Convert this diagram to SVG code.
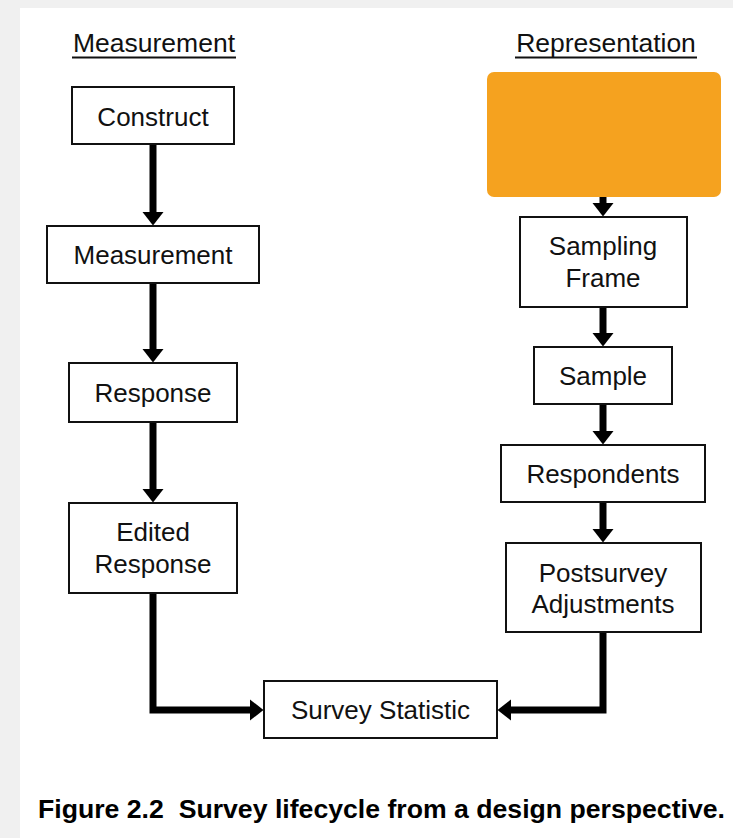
<svg xmlns="http://www.w3.org/2000/svg" width="733" height="838" viewBox="0 0 733 838">
<style>
.box{fill:#fff;stroke:#111;stroke-width:2}
.t{font-family:"Liberation Sans",Arial,sans-serif;font-size:26px;fill:#111;text-anchor:middle}
.hd{font-family:"Liberation Sans",Arial,sans-serif;font-size:26.5px;fill:#111;text-anchor:middle}
.ul{stroke:#111;stroke-width:2}
.c{fill:none;stroke:#000;stroke-width:7;marker-end:url(#ah)}
.cap{font-family:"Liberation Sans",Arial,sans-serif;font-size:26px;font-weight:bold;fill:#000;white-space:pre}
</style>
<defs>
<marker id="ah" markerUnits="userSpaceOnUse" viewBox="0 -11 14 22" markerWidth="14" markerHeight="22" refX="0.5" refY="0" orient="auto">
<path d="M0,-10.5 L13.5,0 L0,10.5 Z" fill="#000"/>
</marker>
</defs>
<rect x="0" y="0" width="733" height="838" fill="#f0f0f0"/>
<rect x="20" y="8" width="713" height="830" fill="#fff"/>

<g id="title-measurement">
<text class="hd" x="154" y="52">Measurement</text>
<line class="ul" x1="72" y1="57.5" x2="236" y2="57.5"/>
</g>
<g id="title-representation">
<text class="hd" x="606" y="52">Representation</text>
<line class="ul" x1="515" y1="57.5" x2="697" y2="57.5"/>
</g>

<g id="connectors">
<line class="c" x1="153" y1="144" x2="153" y2="212.5"/>
<line class="c" x1="153" y1="283" x2="153" y2="349.5"/>
<line class="c" x1="153" y1="422" x2="153" y2="489.5"/>
<polyline class="c" points="153,593 153,710 250.5,710"/>
<line class="c" x1="603" y1="197" x2="603" y2="203.5"/>
<line class="c" x1="603" y1="307" x2="603" y2="333.5"/>
<line class="c" x1="603" y1="404" x2="603" y2="431.5"/>
<line class="c" x1="603" y1="502" x2="603" y2="529.5"/>
<polyline class="c" points="603,632 603,710 510.5,710"/>
</g>

<g id="construct">
<rect class="box" x="72" y="87" width="162" height="57"/>
<text class="t" x="153" y="126">Construct</text>
</g>
<g id="measurement">
<rect class="box" x="47" y="226" width="212" height="57"/>
<text class="t" x="153" y="264">Measurement</text>
</g>
<g id="response">
<rect class="box" x="69" y="363" width="168" height="59"/>
<text class="t" x="153" y="402">Response</text>
</g>
<g id="edited-response">
<rect class="box" x="69" y="503" width="168" height="90"/>
<text class="t" x="153" y="541">Edited</text>
<text class="t" x="153" y="573">Response</text>
</g>

<g id="orange-box">
<rect x="487" y="72" width="234" height="125" rx="7" ry="7" fill="#f5a21f"/>
</g>
<g id="sampling-frame">
<rect class="box" x="520" y="217" width="167" height="90"/>
<text class="t" x="603" y="255">Sampling</text>
<text class="t" x="603" y="287">Frame</text>
</g>
<g id="sample">
<rect class="box" x="534" y="347" width="138" height="57"/>
<text class="t" x="603" y="385">Sample</text>
</g>
<g id="respondents">
<rect class="box" x="501" y="445" width="204" height="57"/>
<text class="t" x="603" y="483">Respondents</text>
</g>
<g id="postsurvey">
<rect class="box" x="506" y="543" width="195" height="89"/>
<text class="t" x="603" y="582">Postsurvey</text>
<text class="t" x="603" y="613">Adjustments</text>
</g>
<g id="survey-statistic">
<rect class="box" x="264" y="681" width="233" height="57"/>
<text class="t" x="380.5" y="719">Survey Statistic</text>
</g>

<text class="cap" x="38" y="818" textLength="687" lengthAdjust="spacingAndGlyphs" xml:space="preserve">Figure 2.2  Survey lifecycle from a design perspective.</text>
</svg>
